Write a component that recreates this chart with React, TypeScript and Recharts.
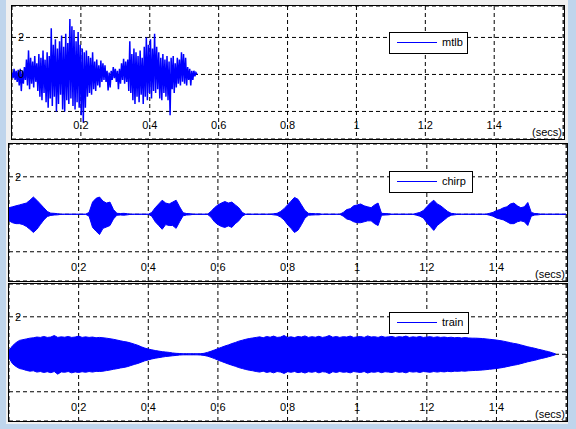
import { ComposedChart, Line, Area, XAxis, YAxis, CartesianGrid } from 'recharts'

// time axis (seconds)
const T_MAX = 1.6026
const X_TICKS = [0.2, 0.4, 0.6, 0.8, 1, 1.2, 1.4, 1.6]
const X_LABELS = ['0.2', '0.4', '0.6', '0.8', '1', '1.2', '1.4', '']
const Y_TICKS = [-2, 0, 2]
const Y_LABELS_TOP = ['', '0', '2']
const Y_LABELS = ['', '', '2']

// mtlb: samples, one every 3 ms
const MTLB_DT = 0.003
const MTLB = [
  0.1, -0.2, 0.3, -0.3, 0.2, -0.4, 0.25, -0.6, 0.3, -0.9,
  0.2, -0.5, 0.4, -0.3, 0.8, -0.6, 1.3, -0.8, 0.9, -0.5,
  0.7, -0.7, 1.0, -0.4, 0.6, -0.9, 1.1, -1.2, 0.9, -1.4,
  1.3, -1.0, 0.8, -1.5, 1.2, -1.8, 1.0, -1.3, 2.5, -1.7,
  1.6, -1.2, 1.9, -2.0, 1.4, -1.6, 1.8, -1.1, 2.1, -1.9,
  1.5, -2.0, 2.2, -1.4, 1.7, -1.6, 3.0, -1.3, 2.6, -1.7,
  2.4, -1.9, 1.8, -1.5, 2.3, -1.8, 1.6, -2.2, 1.4, -2.6,
  1.2, -1.8, 1.3, -1.2, 1.0, -1.0, 0.9, -1.1, 1.2, -0.8,
  0.7, -0.9, 0.8, -0.6, 0.5, -0.7, 0.75, -0.4, 0.6, -0.3,
  0.5, -0.4, 0.2, -0.86, 0.1, -0.7, 0.2, -0.3, 0.4, -0.2,
  0.3, -0.4, 0.2, -0.8, 0.3, -0.5, 0.6, -0.3, 0.85, -0.5,
  0.7, -0.4, 0.8, -0.9, 1.8, -1.0, 1.1, -1.4, 1.4, -1.6,
  1.2, -1.2, 1.0, -1.5, 1.3, -1.1, 0.9, -1.6, 1.5, -1.2,
  2.0, -1.4, 1.6, -1.0, 1.9, -1.3, 1.4, -0.9, 2.2, -1.0,
  1.5, -0.8, 1.2, -1.3, 0.9, -1.4, 1.1, -1.0, 0.8, -1.2,
  1.0, -1.4, 0.7, -2.2, 0.9, -0.8, 1.0, -1.0, 0.6, -0.7,
  0.9, -0.5, 0.8, -0.6, 1.2, -0.4, 1.1, -0.5, 0.9, -0.6,
  0.4, -0.3, 0.3, -0.6, 0.2, -0.3, 0.2, -0.1, 0.1, 0.0,
]

// chirp / train: upper and lower envelope every 10 ms
const ENV_DT = 0.01
const CHIRP_UPPER = [
  0.35, 0.4, 0.45, 0.5, 0.55, 0.6, 0.75, 0.92, 0.75, 0.55,
  0.35, 0.15, 0.06, 0.05, 0.03, 0, 0, 0, 0, 0,
  0, 0, 0, 0.1, 0.65, 0.85, 0.92, 0.7, 0.6, 0.65,
  0.25, 0.05, 0.04, 0.05, 0.03, 0, 0, 0, 0, 0,
  0, 0.1, 0.35, 0.55, 0.75, 0.6, 0.55, 0.65, 0.75, 0.4,
  0.08, 0.04, 0.03, 0, 0, 0, 0, 0, 0.15, 0.35,
  0.5, 0.6, 0.68, 0.6, 0.65, 0.5, 0.35, 0.1, 0, 0,
  0, 0, 0, 0, 0, 0, 0.03, 0.05, 0.15, 0.3,
  0.5, 0.7, 0.9, 0.8, 0.5, 0.2, 0.05, 0.04, 0.03, 0.03,
  0, 0, 0, 0, 0, 0, 0.1, 0.25, 0.3, 0.45,
  0.5, 0.55, 0.45, 0.4, 0.35, 0.5, 0.6, 0.05, 0.04, 0.03,
  0, 0, 0, 0, 0, 0, 0, 0.05, 0.1, 0.2,
  0.4, 0.6, 0.75, 0.55, 0.45, 0.3, 0.15, 0.05, 0.03, 0,
  0, 0, 0, 0, 0, 0, 0, 0, 0.05, 0.1,
  0.2, 0.25, 0.35, 0.4, 0.55, 0.6, 0.45, 0.35, 0.4, 0.63,
  0.1, 0.04, 0.03, 0, 0, 0, 0, 0, 0, 0, 0,
]
const CHIRP_LOWER = [
  -0.35, -0.45, -0.5, -0.5, -0.55, -0.65, -0.8, -0.97, -0.8, -0.55,
  -0.3, -0.12, -0.06, -0.04, -0.03, 0, 0, 0, 0, 0,
  0, 0, 0, -0.1, -0.7, -0.9, -1.08, -0.75, -0.68, -0.6,
  -0.25, -0.05, -0.04, -0.05, -0.03, 0, 0, 0, 0, 0,
  0, -0.1, -0.4, -0.6, -0.8, -0.55, -0.6, -0.6, -0.75, -0.4,
  -0.08, -0.04, -0.03, 0, 0, 0, 0, 0, -0.15, -0.4,
  -0.55, -0.65, -0.7, -0.62, -0.7, -0.5, -0.35, -0.1, 0, 0,
  0, 0, 0, 0, 0, 0, -0.03, -0.05, -0.15, -0.3,
  -0.55, -0.75, -0.97, -0.85, -0.55, -0.2, -0.05, -0.04, -0.03, -0.03,
  0, 0, 0, 0, 0, 0, -0.1, -0.25, -0.3, -0.4,
  -0.45, -0.45, -0.4, -0.35, -0.35, -0.5, -0.6, -0.05, -0.04, -0.03,
  0, 0, 0, 0, 0, 0, 0, -0.05, -0.1, -0.2,
  -0.45, -0.65, -0.86, -0.6, -0.45, -0.3, -0.15, -0.05, -0.03, 0,
  0, 0, 0, 0, 0, 0, 0, 0, -0.05, -0.1,
  -0.2, -0.25, -0.3, -0.4, -0.5, -0.5, -0.4, -0.35, -0.4, -0.6,
  -0.1, -0.04, -0.03, 0, 0, 0, 0, 0, 0, 0, 0,
]
const TRAIN_UPPER = [
  0.2, 0.45, 0.62, 0.74, 0.78, 0.82, 0.86, 0.88, 0.92, 0.9, 0.95,
  0.9, 0.92, 1.0, 0.9, 0.93, 0.91, 0.95, 0.9, 0.92, 0.97,
  0.9, 0.93, 0.9, 0.92, 0.88, 0.9, 0.88, 0.86, 0.83, 0.8,
  0.76, 0.72, 0.68, 0.65, 0.6, 0.54, 0.48, 0.4, 0.33, 0.28,
  0.24, 0.2, 0.17, 0.14, 0.12, 0.1, 0.07, 0.05, 0.04, 0.03,
  0.03, 0.03, 0.03, 0.03, 0.03, 0.05, 0.1, 0.16, 0.23, 0.3,
  0.37, 0.44, 0.5, 0.57, 0.63, 0.7, 0.75, 0.8, 0.84, 0.87,
  0.9, 0.93, 0.88, 0.95, 0.91, 0.97, 0.9, 0.92, 1.0, 0.9,
  0.93, 0.89, 0.95, 0.92, 0.98, 0.9, 0.94, 0.91, 0.96, 0.9,
  0.93, 1.0, 0.91, 0.95, 0.9, 0.94, 0.92, 0.97, 0.9, 0.93,
  0.95, 0.9, 0.98, 0.92, 0.94, 0.9, 0.96, 0.91, 0.93, 0.95,
  0.9, 0.94, 0.92, 0.97, 0.9, 0.93, 0.91, 0.95, 0.9, 0.92,
  0.94, 0.9, 0.93, 0.9, 0.92, 0.89, 0.91, 0.88, 0.9, 0.87,
  0.89, 0.87, 0.86, 0.86, 0.85, 0.84, 0.82, 0.8, 0.78, 0.76,
  0.73, 0.7, 0.66, 0.62, 0.58, 0.55, 0.5, 0.45, 0.4, 0.36,
  0.32, 0.27, 0.23, 0.18, 0.14, 0.08, 0.02,
]
const TRAIN_LOWER = [
  -0.2, -0.5, -0.65, -0.76, -0.8, -0.86, -0.9, -0.88, -0.95, -0.92, -0.97,
  -0.93, -0.98, -0.92, -1.06, -0.94, -0.96, -0.92, -0.99, -0.94, -0.97,
  -0.93, -0.96, -0.92, -0.95, -0.91, -0.92, -0.9, -0.87, -0.84, -0.8,
  -0.77, -0.73, -0.7, -0.66, -0.6, -0.54, -0.49, -0.42, -0.35, -0.3,
  -0.25, -0.21, -0.18, -0.15, -0.12, -0.1, -0.08, -0.06, -0.04, -0.03,
  -0.03, -0.03, -0.03, -0.03, -0.04, -0.06, -0.1, -0.16, -0.23, -0.31,
  -0.38, -0.45, -0.52, -0.58, -0.64, -0.71, -0.76, -0.81, -0.85, -0.88,
  -0.92, -0.95, -0.9, -0.97, -0.93, -0.99, -0.92, -0.95, -1.02, -0.93,
  -0.96, -0.92, -0.98, -0.94, -1.0, -0.93, -0.96, -0.92, -0.99, -0.93,
  -0.95, -1.03, -0.93, -0.97, -0.92, -0.96, -0.94, -0.99, -0.92, -0.95,
  -0.97, -0.92, -1.0, -0.94, -0.96, -0.92, -0.98, -0.93, -0.95, -0.97,
  -0.92, -0.96, -0.94, -0.99, -0.92, -0.95, -0.93, -0.97, -0.92, -0.94,
  -0.96, -0.92, -0.95, -0.92, -0.94, -0.91, -0.93, -0.9, -0.91, -0.89,
  -0.9, -0.88, -0.87, -0.86, -0.85, -0.84, -0.82, -0.8, -0.78, -0.76,
  -0.73, -0.7, -0.66, -0.62, -0.58, -0.55, -0.5, -0.45, -0.4, -0.36,
  -0.32, -0.27, -0.22, -0.18, -0.13, -0.08, -0.02,
]

const mtlbData = MTLB.map((v, i) => ({ t: i * MTLB_DT, v }))
const chirpData = CHIRP_UPPER.map((u, i) => ({ t: i * ENV_DT, range: [CHIRP_LOWER[i], u] }))
const trainData = TRAIN_UPPER.map((u, i) => ({ t: i * ENV_DT, range: [TRAIN_LOWER[i], u] }))

const BLUE = '#0000ff'
const FONT = '"Liberation Sans", Arial, sans-serif'

function Panel({ x, y, w, h, yDomain, yLabels, data, name, legendW, legendTop, legendLeft, area }: any) {
  const iw = w - 2
  const ih = h - 2
  return (
    <div style={{ position: 'absolute', left: x, top: y, width: w, height: h, boxSizing: 'border-box', border: '1px solid #000', background: '#fff' }}>
      <ComposedChart width={iw} height={ih} data={data} margin={{ top: 0, right: 0, bottom: 0, left: 0 }}>
        <CartesianGrid stroke="#000" strokeDasharray="4 3" />
        <XAxis
          type="number"
          dataKey="t"
          domain={[0, T_MAX]}
          ticks={X_TICKS}
          interval={0}
          mirror
          axisLine={false}
          tickLine={false}
          allowDataOverflow
          tick={(p: any) => (
            <text x={p.x} y={ih - 10} textAnchor="middle" fontSize={11} fontFamily={FONT} fill="#000">
              {X_LABELS[X_TICKS.indexOf(p.payload.value)]}
            </text>
          )}
        />
        <YAxis
          type="number"
          domain={yDomain}
          ticks={Y_TICKS}
          interval={0}
          mirror
          axisLine={false}
          tickLine={false}
          allowDataOverflow
          tick={(p: any) => (
            <text x={12} y={p.y + 4} textAnchor="end" fontSize={11} fontFamily={FONT} fill="#000">
              {yLabels[Y_TICKS.indexOf(p.payload.value)]}
            </text>
          )}
        />
        {area ? (
          <Area type="linear" dataKey="range" stroke={BLUE} strokeWidth={1} fill={BLUE} fillOpacity={1} dot={false} activeDot={false} isAnimationActive={false} />
        ) : (
          <Line type="linear" dataKey="v" stroke={BLUE} strokeWidth={1.5} dot={false} activeDot={false} isAnimationActive={false} />
        )}
      </ComposedChart>
      <svg width={40} height={16} style={{ position: 'absolute', right: 1, bottom: 0 }}>
        <text x={39} y={13} textAnchor="end" fontSize={11} fontFamily={FONT} fill="#000">(secs)</text>
      </svg>
      <div style={{ position: 'absolute', left: legendLeft, top: legendTop, width: legendW, height: 22, boxSizing: 'border-box', border: '1px solid #000', background: '#fff' }}>
        <div style={{ position: 'absolute', left: 7, top: 9, width: 40, height: 1, background: BLUE }} />
        <span style={{ position: 'absolute', left: 52, top: 3, fontSize: 11, lineHeight: '13px', fontFamily: FONT, color: '#000' }}>{name}</span>
      </div>
    </div>
  )
}

export default function App() {
  return (
    <div style={{ position: 'absolute', left: 0, top: 0, width: 576, height: 429, background: '#f0f0f0', overflow: 'hidden' }}>
      <div style={{ position: 'absolute', left: 0, top: 0, width: 6, height: 429, background: '#bfd5ec' }} />
      <div style={{ position: 'absolute', left: 568, top: 0, width: 8, height: 429, background: '#bfd5ec' }} />
      <div style={{ position: 'absolute', left: 0, top: 424, width: 576, height: 5, background: '#bfd5ec' }} />
      <Panel x={11} y={5} w={554} h={135} yDomain={[-3.49, 3.7]} yLabels={Y_LABELS_TOP} data={mtlbData} name="mtlb" legendW={79} legendTop={26} legendLeft={377} />
      <Panel x={8} y={143} w={560} h={139} yDomain={[-3.56, 3.75]} yLabels={Y_LABELS} data={chirpData} name="chirp" legendW={84} legendTop={27} legendLeft={380} area />
      <Panel x={8} y={283} w={560} h={139} yDomain={[-3.56, 3.75]} yLabels={Y_LABELS} data={trainData} name="train" legendW={80} legendTop={28} legendLeft={380} area />
    </div>
  )
}
